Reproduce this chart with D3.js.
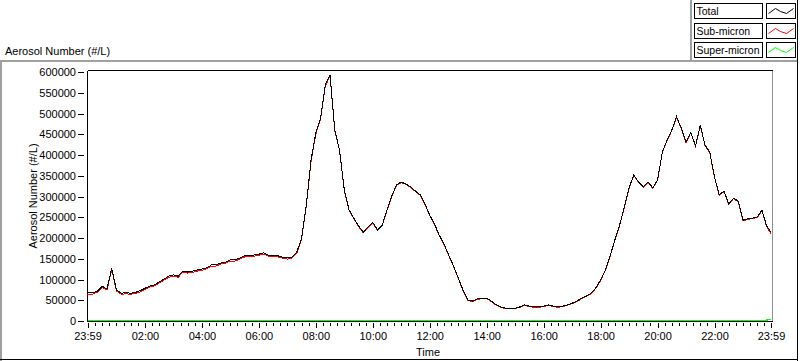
<!DOCTYPE html>
<html>
<head>
<meta charset="utf-8">
<script src="https://cdn.jsdelivr.net/npm/d3@7"></script>
<style>
  body { margin: 0; background: #fff; }
  svg { display: block; font-family: "Liberation Sans", Arial, sans-serif; }
  .axis text { font-family: "Liberation Sans", Arial, sans-serif; font-size: 11px; fill: #000; }
  .axis line { stroke: #000; shape-rendering: crispEdges; }
</style>
</head>
<body>
<svg id="chart" width="800" height="361"></svg>
<script>
// minutes after midnight; first point is 23:59 of the previous day
const times = [-1, ...d3.range(0, 1440, 10), 1439];

const total = [
  66000, 67500, 67500, 72000, 84000, 77000, 127000, 75000, 67000, 68000, 67000, 69000, 73000,
  79000, 84000, 87000, 94000, 101000, 108000,
  111000, 108000, 120000, 118000, 120000, 123000,
  125000, 128000, 135000, 135000, 140000, 142000,
  147000, 147000, 152000, 157000, 157000, 159000,
  161000, 164000, 159000, 159000, 157000, 154000,
  152000, 154000, 166000, 200000, 280000, 388000,
  453000, 489000, 569000, 593000, 460000, 412000,
  316000, 268000, 248000, 229000, 214000, 226000,
  238000, 219000, 231000, 268000, 301000, 328000,
  335000, 330000, 323000, 313000, 304000, 282000,
  255000, 234000, 207000, 186000, 159000, 133000,
  104000, 75000, 51000, 48000, 53000, 55000,
  55000, 48000, 39000, 34000, 31000, 31000,
  31000, 34000, 39000, 36000, 34000, 34000,
  36000, 39000, 36000, 34000, 36000, 39000,
  43000, 48000, 55000, 60000, 67000, 80000,
  99000, 123000, 157000, 195000, 231000, 275000,
  321000, 352000, 335000, 323000, 335000, 321000,
  340000, 407000, 436000, 460000, 492000, 465000,
  431000, 455000, 422000, 472000, 424000, 407000,
  347000, 304000, 313000, 282000, 296000, 289000,
  243000, 246000, 248000, 251000, 267000, 229000,
  214000
];

const subMicron = [
  63400, 64800, 65000, 69400, 81200, 74400, 124000, 72300, 64500, 65400, 64500, 66400, 70300,
  76400, 81500, 84300, 91400, 98200, 105300,
  108400, 105500, 117300, 115400, 117200, 120300,
  122400, 125500, 132400, 132300, 137400, 139200,
  144300, 144400, 149500, 154400, 154300, 156400,
  158200, 161300, 156400, 156500, 154400, 151300,
  149200, 151400, 163300, 197100, 276900, 385000,
  450100, 486200, 566000, 590200, 458400, 410500,
  314600, 266500, 246700, 227600, 212700, 224600,
  236700, 217800, 229700, 266600, 299700, 326600,
  333700, 328800, 321700, 311600, 302700, 280800,
  253700, 232800, 205700, 184800, 157700, 131800,
  102900, 73800, 49900, 46800, 51900, 53800,
  53900, 47000, 37900, 33000, 29900, 30000,
  29900, 33000, 37900, 35000, 32900, 33000,
  34900, 38000, 34900, 33000, 34900, 38000,
  41900, 46800, 53900, 58800, 65900, 78800,
  97700, 121800, 155700, 193600, 229700, 273600,
  319700, 350600, 333700, 321600, 333700, 319600,
  338700, 405600, 434500, 458600, 490500, 463600,
  429700, 453600, 420700, 470600, 422700, 405600,
  345700, 302600, 311700, 280600, 294700, 287600,
  241700, 244600, 246700, 249500, 265200, 226800,
  210000
];

const superMicron = [
  1700, 1800, 1600, 1700, 1800, 1700, 1900, 1700, 1600, 1700, 1600, 1700, 1800,
  1700, 1600, 1800, 1700, 1800, 1700,
  1700, 1600, 1800, 1700, 1800, 1700,
  1700, 1600, 1700, 1800, 1700, 1800,
  1800, 1700, 1600, 1700, 1800, 1700,
  1800, 1700, 1700, 1600, 1700, 1800,
  1800, 1700, 1800, 1900, 2000, 1900,
  1900, 1800, 1900, 1800, 1300, 1250,
  1200, 1250, 1200, 1250, 1200, 1250,
  1200, 1150, 1200, 1250, 1200, 1250,
  1200, 1150, 1200, 1250, 1200, 1150,
  1200, 1150, 1200, 1150, 1200, 1150,
  1100, 1150, 1100, 1150, 1100, 1150,
  1100, 1050, 1100, 1050, 1100, 1050,
  1100, 1050, 1100, 1050, 1100, 1050,
  1100, 1050, 1100, 1050, 1100, 1050,
  1100, 1150, 1100, 1150, 1100, 1150,
  1200, 1150, 1200, 1250, 1200, 1250,
  1200, 1250, 1200, 1250, 1200, 1250,
  1200, 1250, 1300, 1250, 1300, 1250,
  1200, 1250, 1200, 1250, 1200, 1250,
  1200, 1250, 1200, 1250, 1200, 1250,
  1200, 1250, 1200, 1300, 1500, 2200,
  4000
];

const yTicks = d3.range(0, 600001, 50000);
const xMajor = [-1, 120, 240, 360, 480, 600, 720, 840, 960, 1080, 1200, 1320, 1439];
const xMinor = d3.range(15, 1440, 15).filter(m => m % 120 !== 0);

const series = [
  {name: "Super-micron", values: superMicron, color: "#00ff00"},
  {name: "Sub-micron", values: subMicron, color: "#ff0000"},
  {name: "Total", values: total, color: "#000000"}
];
const legendOrder = ["Total", "Sub-micron", "Super-micron"];

const svg = d3.select("#chart");
svg.append("rect").attr("width", 800).attr("height", 361).attr("fill", "#fff");

const x = d3.scaleLinear().domain([-1, 1439]).range([87.5, 771]);
const y = d3.scaleLinear().domain([0, 600000]).range([321, 72]);

// outer frame (sunken look)
const frame = svg.append("g").attr("shape-rendering", "crispEdges");
frame.append("line").attr("x1", 0).attr("x2", 798).attr("y1", 61).attr("y2", 61).attr("stroke", "#a0a0a0").attr("stroke-width", 2);
frame.append("line").attr("x1", 1).attr("x2", 1).attr("y1", 61).attr("y2", 361).attr("stroke", "#a0a0a0").attr("stroke-width", 2);
frame.append("line").attr("x1", 691).attr("x2", 691).attr("y1", 0).attr("y2", 61).attr("stroke", "#a0a0a0").attr("stroke-width", 2);
frame.append("line").attr("x1", 797.5).attr("x2", 797.5).attr("y1", 0).attr("y2", 361).attr("stroke", "#000");
frame.append("line").attr("x1", 0).attr("x2", 798).attr("y1", 359.5).attr("y2", 359.5).attr("stroke", "#000").attr("stroke-width", 1.5);

// title
svg.append("text").attr("x", 5).attr("y", 55).attr("font-size", 11).text("Aerosol Number (#/L)");

// plot frame
const pf = svg.append("g").attr("shape-rendering", "crispEdges");
pf.append("line").attr("x1", 87.5).attr("x2", 772.5).attr("y1", 70.5).attr("y2", 70.5).attr("stroke", "#000");
pf.append("line").attr("x1", 772.5).attr("x2", 772.5).attr("y1", 70.5).attr("y2", 321.5).attr("stroke", "#909090");

// lines
const line = d3.line().x((d, i) => x(times[i])).y(d => y(d));
series.forEach(s => {
  svg.append("path").datum(s.values)
    .attr("d", line)
    .attr("fill", "none")
    .attr("stroke", s.color)
    .attr("stroke-width", s.name === "Super-micron" ? 1.3 : 1)
    .attr("shape-rendering", "crispEdges");
});

// axis lines
pf.append("line").attr("x1", 87.5).attr("x2", 87.5).attr("y1", 70.5).attr("y2", 321.5).attr("stroke", "#000");
pf.append("line").attr("x1", 87.5).attr("x2", 772.5).attr("y1", 321.5).attr("y2", 321.5).attr("stroke", "#000");

// y axis
const yAxis = svg.append("g").attr("class", "axis")
  .attr("transform", "translate(84,0)")
  .call(d3.axisLeft(y).tickValues(yTicks).tickSize(6).tickPadding(2).tickFormat(d3.format("d")));
yAxis.select(".domain").remove();

// x axis
const fmt = m => {
  const mm = (m + 1440) % 1440;
  return String(Math.floor(mm / 60)).padStart(2, "0") + ":" + String(mm % 60).padStart(2, "0");
};
const xAxis = svg.append("g").attr("class", "axis")
  .attr("transform", "translate(0,323)")
  .call(d3.axisBottom(x).tickValues(xMajor).tickSize(5).tickPadding(4).tickFormat(fmt));
xAxis.select(".domain").remove();
const xMin = svg.append("g").attr("class", "axis")
  .attr("transform", "translate(0,323)")
  .call(d3.axisBottom(x).tickValues(xMinor).tickSize(3).tickFormat(""));
xMin.select(".domain").remove();

// axis labels
svg.append("text").attr("x", 428).attr("y", 356).attr("text-anchor", "middle").attr("font-size", 11).text("Time");
svg.append("text").attr("transform", "translate(37,196) rotate(-90)").attr("text-anchor", "middle")
  .attr("font-size", 11).text("Aerosol Number (#/L)");

// legend
const legendY = d3.scaleBand().domain(legendOrder).range([3.5, 57.5]).paddingInner(0.2);
const swatch = [[2, 10], [9, 5], [14, 8], [20, 10], [27, 5]];
const lg = svg.append("g");
legendOrder.forEach(name => {
  const s = series.find(d => d.name === name);
  const top = Math.round(legendY(name)) + 0.5;
  lg.append("rect").attr("x", 694.5).attr("y", top).attr("width", 68).attr("height", 15)
    .attr("fill", "#fff").attr("stroke", "#000").attr("shape-rendering", "crispEdges");
  lg.append("text").attr("x", 696.5).attr("y", top + 11.5).attr("font-size", 10.5).text(name);
  lg.append("rect").attr("x", 766.5).attr("y", top).attr("width", 29).attr("height", 15)
    .attr("fill", "#fff").attr("stroke", "#000").attr("shape-rendering", "crispEdges");
  lg.append("path").datum(swatch)
    .attr("d", d3.line().x(p => 766.5 + p[0]).y(p => top + p[1]))
    .attr("fill", "none").attr("stroke", s.color).attr("stroke-width", 1);
});
</script>
</body>
</html>
